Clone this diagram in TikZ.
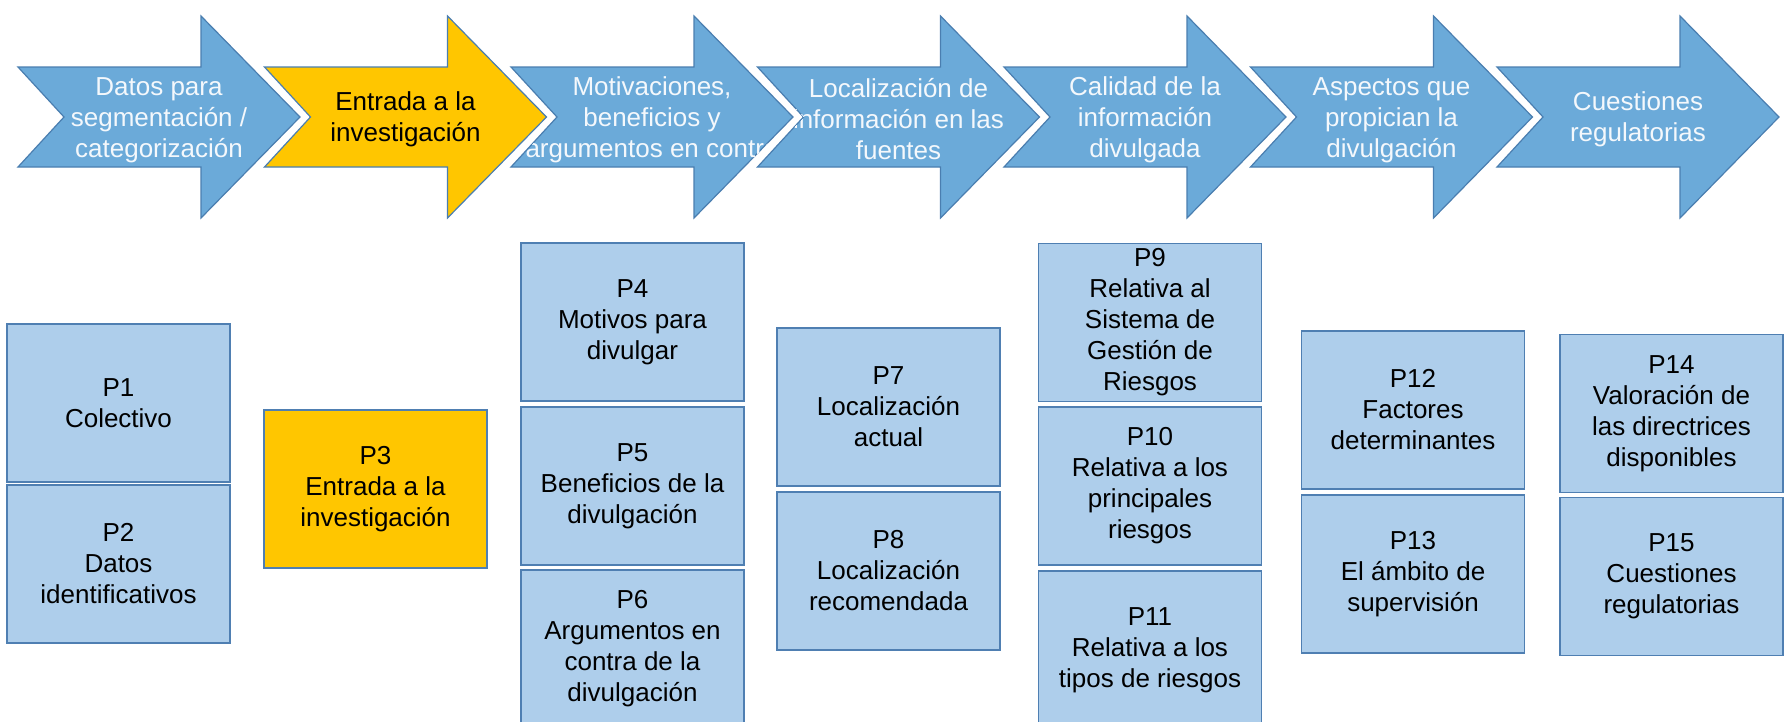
\documentclass[tikz,border=0pt]{standalone}
\usepackage{fontspec}
\setmainfont{Liberation Sans}
\definecolor{arrowfill}{HTML}{6BAAD9}
\definecolor{arrowline}{HTML}{4A7EB0}
\definecolor{boxfill}{HTML}{AECEEB}
\definecolor{boxline}{HTML}{4F7FB2}
\definecolor{gold}{HTML}{FFC600}
\definecolor{arrowtextcol}{HTML}{F4F8FC}
\newcommand\arrowpath[1]{(#1,67) -- ++(183,0) -- ++(0,-51) -- ++(99,101) -- ++(-99,101) -- ++(0,-51) -- ++(-183,0) -- ++(46,-50) -- cycle}
\begin{document}
\begin{tikzpicture}[x=1pt,y=-1pt,
  glow/.style={draw=white, line width=6pt, line join=miter},
  arrowshape/.style={fill=arrowfill, draw=arrowline, line width=1.2pt, line join=miter},
  goldshape/.style={fill=gold, draw=arrowline, line width=1.2pt, line join=miter},
  arrowtext/.style={text=arrowtextcol, align=center, font=\fontsize{26}{31}\selectfont, inner sep=0pt},
  goldtext/.style={arrowtext, text=black},
  pbox/.style={draw=boxline, fill=boxfill, line width=1.6pt, minimum width=223pt, minimum height=158pt,
    align=center, font=\fontsize{26}{31}\selectfont, inner sep=0pt, text=black},
  pgold/.style={pbox, fill=gold}]
\useasboundingbox (0,0) rectangle (1789,721);
\clip (0,0) rectangle (1789,721);
% ---- process arrows ----
\draw[glow] \arrowpath{18};
\draw[arrowshape] \arrowpath{18};
\begin{scope}\clip \arrowpath{18};
\node[arrowtext] (a1) at (159,120) {Datos para\\segmentación /\\categorización};
\end{scope}
\draw[glow] \arrowpath{264.5};
\draw[goldshape] \arrowpath{264.5};
\begin{scope}\clip \arrowpath{264.5};
\node[goldtext] (a2) at (405.5,119.5) {Entrada a la\\investigación};
\end{scope}
\draw[glow] \arrowpath{511};
\draw[arrowshape] \arrowpath{511};
\begin{scope}\clip \arrowpath{511};
\node[arrowtext] (a3) at (652,120) {Motivaciones,\\beneficios y\\argumentos en contra};
\end{scope}
\draw[glow] \arrowpath{757.5};
\draw[arrowshape] \arrowpath{757.5};
\begin{scope}\clip \arrowpath{757.5};
\node[arrowtext] (a4) at (898.5,119) {Localización de\\información en las\\fuentes};
\end{scope}
\draw[glow] \arrowpath{1004};
\draw[arrowshape] \arrowpath{1004};
\begin{scope}\clip \arrowpath{1004};
\node[arrowtext] (a5) at (1145,120) {Calidad de la\\información\\divulgada};
\end{scope}
\draw[glow] \arrowpath{1250.5};
\draw[arrowshape] \arrowpath{1250.5};
\begin{scope}\clip \arrowpath{1250.5};
\node[arrowtext] (a6) at (1391.5,120) {Aspectos que\\propician la\\divulgación};
\end{scope}
\draw[glow] \arrowpath{1497};
\draw[arrowshape] \arrowpath{1497};
\begin{scope}\clip \arrowpath{1497};
\node[arrowtext] (a7) at (1638,119.5) {Cuestiones\\regulatorias};
\end{scope}
% ---- question boxes ----
\node[pbox] (p1) at (118.5,403) {P1\\Colectivo};
\node[pbox] (p2) at (118.5,564) {P2\\Datos\\identificativos};
\node[pgold] (p3) at (375.5,489) {P3\\Entrada a la\\investigación};
\node[pbox] (p4) at (632.5,322) {P4\\Motivos para\\divulgar};
\node[pbox] (p5) at (632.5,486) {P5\\Beneficios de la\\divulgación};
\node[pbox] (p6) at (632.5,649) {P6\\Argumentos en\\contra de la\\divulgación};
\node[pbox] (p7) at (888.5,407) {P7\\Localización\\actual};
\node[pbox] (p8) at (888.5,571) {P8\\Localización\\recomendada};
\node[pbox] (p9) at (1150,322.5) {P9\\Relativa al\\Sistema de\\Gestión de\\Riesgos};
\node[pbox] (p10) at (1150,486) {P10\\Relativa a los\\principales\\riesgos};
\node[pbox] (p11) at (1150,650) {P11\\Relativa a los\\tipos de riesgos};
\node[pbox] (p12) at (1413,410) {P12\\Factores\\determinantes};
\node[pbox] (p13) at (1413,574) {P13\\El ámbito de\\supervisión};
\node[pbox] (p14) at (1671.5,413.5) {P14\\Valoración de\\las directrices\\disponibles};
\node[pbox] (p15) at (1671.5,576.5) {P15\\Cuestiones\\regulatorias};
\end{tikzpicture}
\end{document}
